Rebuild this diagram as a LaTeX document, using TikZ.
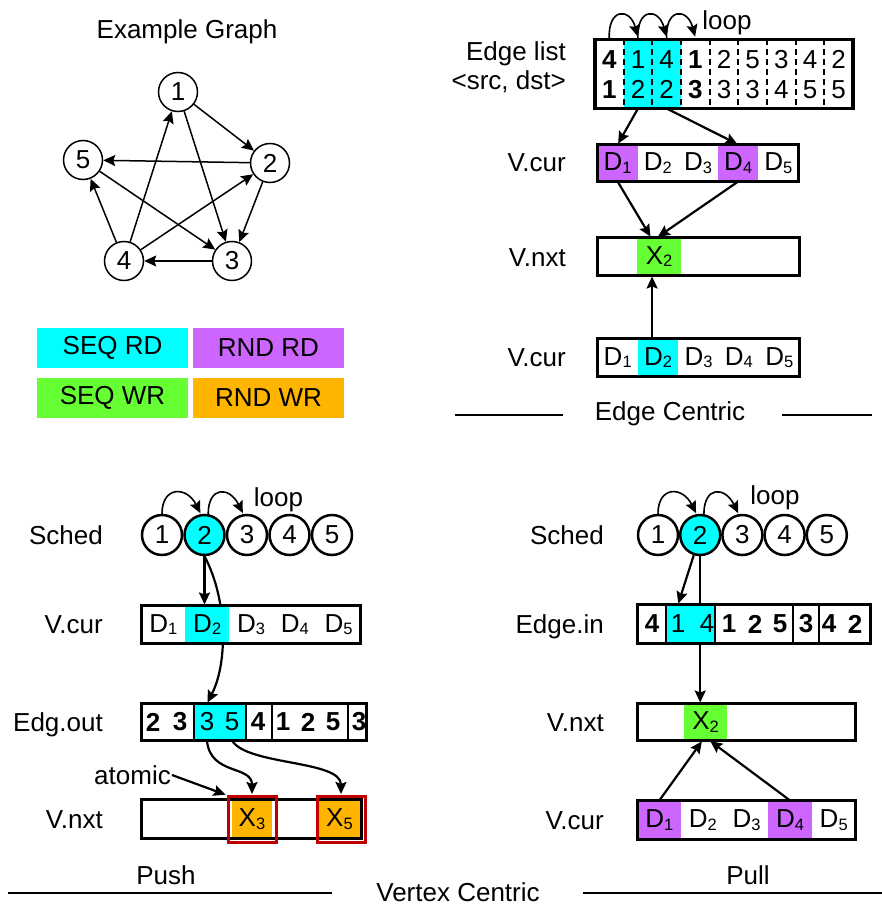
\documentclass[tikz,border=0pt]{standalone}
\usepackage{fontspec}
\setmainfont{Liberation Sans}
\usetikzlibrary{arrows.meta, calc, positioning}

% Cores dos tipos de acesso
\definecolor{seqrd}{RGB}{0,255,255}
\definecolor{rndrd}{RGB}{204,102,255}
\definecolor{seqwr}{RGB}{102,255,51}
\definecolor{rndwr}{RGB}{255,181,0}
\definecolor{atomico}{RGB}{192,0,0}

% Indice (subscrito) dos dados
\newcommand{\idxsub}[1]{\raisebox{-2.5pt}{\fontsize{16.5}{16.5}\selectfont #1}}

\begin{document}
\begin{tikzpicture}[x=1pt, y=-1pt, >={Stealth[length=12pt, width=11pt, inset=2pt]},
  font=\fontsize{26}{31}\selectfont, inner sep=1pt]

  % --- CONFIGURAÇÕES GERAIS ---
  \tikzstyle{vtx}=[circle, draw, line width=1.5pt, minimum size=39pt, inner sep=0pt]
  \tikzstyle{sch}=[circle, draw, line width=2.5pt, minimum size=40pt, inner sep=0pt]
  \tikzstyle{fundo}=[fill=white, inner sep=0pt, outer sep=0pt]
  \tikzstyle{borda}=[line width=3.2pt]
  \tikzstyle{cel}=[inner sep=0pt]
  \tikzstyle{leg}=[inner sep=0pt, minimum width=151pt, minimum height=40pt]
  \tikzstyle{seta}=[->, line width=2.2pt, shorten >=1pt]
  \tikzstyle{atom}=[draw=atomico, line width=3pt, minimum width=48pt, minimum height=46pt, inner sep=0pt]
  \tikzstyle{regua}=[line width=2.5pt]
  \tikzstyle{rot}=[anchor=base east]

  \useasboundingbox (0,0) rectangle (882,909);

  % --- GRAFO DE EXEMPLO ---
  \node (tit) at (187,32) {Example Graph};
  \node[vtx] (g1) at (178,92) {1};
  \node[vtx] (g2) at (270,163) {2};
  \node[vtx] (g3) at (232,261) {3};
  \node[vtx] (g4) at (124,261) {4};
  \node[vtx] (g5) at (83,160) {5};
  \foreach \a/\b in {1/2, 1/3, 2/5, 2/3, 4/1, 4/2, 4/5, 5/3, 3/4}
    \draw[->, line width=1.5pt] (g\a) -- (g\b);

  % Legenda
  \node[leg, fill=seqrd] (lsr) at (112.5,348) {SEQ RD};
  \node[leg, fill=rndrd] (lrr) at (268.5,348) {RND RD};
  \node[leg, fill=seqwr] (lsw) at (112.5,397.5) {SEQ WR};
  \node[leg, fill=rndwr] (lrw) at (268.5,397.5) {RND WR};

  % --- EDGE CENTRIC ---
  \node[anchor=east] (elt) at (567,53.5) {Edge list};
  \node[anchor=east] (elt2) at (567,82) {<src, dst>};
  \node[fundo, minimum width=258pt, minimum height=69pt] (el) at (724,74) {};
  \node[cel, fill=seqrd, minimum width=57.3pt, minimum height=66pt] (elc) at ($(el.west)+(57.33,0)$) {};
  \foreach \s/\d [count=\i] in {\textbf{4}/\textbf{1}, 1/2, 4/2, \textbf{1}/\textbf{3}, 2/3, 5/3, 3/4, 4/5, 2/5} {
    \node (es\i) at ($(el.west)+({28.667*(\i-0.5)},-14.5)$) {\s};
    \node (ed\i) at ($(el.west)+({28.667*(\i-0.5)},15.5)$) {\d};
  }
  \foreach \i in {1,...,8}
    \draw[dash pattern=on 6pt off 4pt, line width=2pt] ($(el.north west)+({28.667*\i},0)$) -- ($(el.south west)+({28.667*\i},0)$);
  \draw[borda] (el.north west) rectangle (el.south east);

  % laço sobre as arestas
  \foreach \a/\b in {1/2, 2/3, 3/4}
    \draw[seta, line width=1.6pt] (es\a |- el.north) .. controls +(-2,-32) and +(-8,-30) .. ($(es\b |- el.north)+(0,-2)$);
  \node (lp1) at (727,23) {loop};

  % V.cur
  \node[rot] (vct) at (567,172) {V.cur};
  \node[fundo, minimum width=201pt, minimum height=37pt] (vc) at (698,163) {};
  \foreach \c/\i in {rndrd/1, white/2, white/3, rndrd/4, white/5}
    \node[cel, fill=\c, minimum width=40.2pt, minimum height=34pt] (vc\i) at ($(vc.west)+({40.2*(\i-0.5)},0)$) {D\idxsub{\i}};
  \draw[borda] (vc.north west) rectangle (vc.south east);

  % V.nxt
  \node[rot] (vnt) at (567,266) {V.nxt};
  \node[fundo, minimum width=202pt, minimum height=38pt] (vn) at (698.5,256.5) {};
  \node[cel, fill=seqwr, minimum width=44pt, minimum height=35pt] (vnx) at (659,256.5) {X\idxsub{2}};
  \draw[borda] (vn.north west) rectangle (vn.south east);

  % V.cur (leitura sequencial)
  \node[rot] (vbt) at (567,366.5) {V.cur};
  \node[fundo, minimum width=202pt, minimum height=38pt] (vb) at (698.5,357.5) {};
  \foreach \c/\i in {white/1, seqrd/2, white/3, white/4, white/5}
    \node[cel, fill=\c, minimum width=40.4pt, minimum height=35pt] (vb\i) at ($(vb.west)+({40.4*(\i-0.5)},0)$) {D\idxsub{\i}};
  \draw[borda] (vb.north west) rectangle (vb.south east);

  % Setas do estágio edge centric
  \draw[seta] (es2 |- el.south) -- (vc1 |- vc.north);
  \draw[seta] (es3 |- el.south) -- (vc4 |- vc.north);
  \draw[seta] (vc1 |- vc.south) -- ($(vn.north -| vnx)+(-8,0)$);
  \draw[seta] (vc4 |- vc.south) -- ($(vn.north -| vnx)+(-2,0)$);
  \draw[seta] ($(vb.north -| vb2)+(-6,0)$) -- ($(vn.south -| vb2)+(-6,0)$);

  \node (ec) at (670,414) {Edge Centric};
  \draw[regua] (455,415) -- (563,415);
  \draw[regua] (782,415) -- (872,415);

  % --- VERTEX CENTRIC: PUSH ---
  \node[rot] (pst) at (104,544) {Sched};
  \foreach \i/\c in {1/white, 2/seqrd, 3/white, 4/white, 5/white}
    \node[sch, fill=\c] (p\i) at ({119.5+42.5*\i},535) {\i};
  \draw[seta, line width=1.6pt] (p1.north) .. controls +(0,-28) and +(-14,-28) .. (p2.100);
  \draw[seta, line width=1.6pt] (p2.80) .. controls +(0,-28) and +(-14,-28) .. (p3.100);
  \node (lp2) at (278.5,500) {loop};

  % caminho até as arestas de saída (passa por trás de V.cur)
  \draw[seta] (p2.south) .. controls +(23,43) and +(21,-41) .. (207,703.5);

  \node[rot] (pvt) at (104,633.5) {V.cur};
  \node[fundo, minimum width=219pt, minimum height=38pt] (vcp) at (251,624.5) {};
  \foreach \c/\i in {white/1, seqrd/2, white/3, white/4, white/5}
    \node[cel, fill=\c, minimum width=43.8pt, minimum height=35pt] (vcp\i) at ($(vcp.west)+({43.8*(\i-0.5)},0)$) {D\idxsub{\i}};
  \draw[borda] (vcp.north west) rectangle (vcp.south east);
  \draw[seta] (p2) -- (p2 |- vcp.north);

  % Edg.out
  \node[rot] (eot) at (104,731) {Edg.out};
  \node[fundo, minimum width=225pt, minimum height=37pt] (eo) at (254,722) {};
  \node[cel, fill=seqrd, minimum width=52pt, minimum height=34pt] (eoc) at (220,722) {};
  \foreach \x/\n [count=\i] in {153/\textbf{2}, 180/\textbf{3}, 207/3, 232/5, 258/\textbf{4}, 283/\textbf{1}, 308/\textbf{2}, 333/\textbf{5}, 359/\textbf{3}}
    \node (eo\i) at (\x,722) {\n};
  \foreach \x in {194, 246, 272, 348}
    \draw[line width=2pt] (\x,703.5) -- (\x,740.5);
  \draw[borda] (eo.north west) rectangle (eo.south east);

  % V.nxt com escrita atômica
  \node[rot] (pnt) at (104,828) {V.nxt};
  \node[fundo, minimum width=220pt, minimum height=39pt] (vnp) at (251.5,819) {};
  \node[cel, fill=rndwr, minimum width=40pt, minimum height=36pt] (x3) at (252,819) {X\idxsub{3}};
  \node[cel, fill=rndwr, minimum width=43pt, minimum height=36pt] (x5) at (339.5,819) {X\idxsub{5}};
  \draw[borda] (vnp.north west) rectangle (vnp.south east);
  \node[atom] (r3) at (252,819.5) {};
  \node[atom] (r5) at (341,819.5) {};

  \draw[seta] (eo3 |- eo.south) .. controls +(3,35) and +(0,-30) .. (r3.north);
  \draw[seta] (eo4 |- eo.south) .. controls +(15,25) and +(0,-35) .. (r5.north);

  \node (atm) at (132.5,775) {atomic};
  \draw[seta] (atm.east) -- (r3.north west);

  \node (push) at (166,875) {Push};
  \draw[regua] (8,893) -- (332,893);

  \node (vtc) at (458,892) {Vertex Centric};

  % --- VERTEX CENTRIC: PULL ---
  \node[rot] (qst) at (605,544) {Sched};
  \foreach \i/\c in {1/white, 2/seqrd, 3/white, 4/white, 5/white}
    \node[sch, fill=\c] (q\i) at ({615.8+42.2*\i},535) {\i};
  \draw[seta, line width=1.6pt] (q1.north) .. controls +(0,-28) and +(-14,-28) .. (q2.100);
  \draw[seta, line width=1.6pt] (q2.80) .. controls +(0,-28) and +(-14,-28) .. (q3.100);
  \node (lp3) at (775,498) {loop};

  % caminho até V.nxt (passa por trás de Edge.in)
  \draw[seta] (q2) -- (700.2,703.5);

  \node[rot] (eit) at (605,633) {Edge.in};
  \node[fundo, minimum width=233pt, minimum height=39pt] (ei) at (754,624) {};
  \node[cel, fill=seqrd, minimum width=49pt, minimum height=36pt] (eic) at (690.5,624) {};
  \foreach \x/\n [count=\i] in {652/\textbf{4}, 678/1, 707/4, 729/\textbf{1}, 755/\textbf{2}, 780/\textbf{5}, 806/\textbf{3}, 829/\textbf{4}, 855/\textbf{2}}
    \node (ei\i) at (\x,624) {\n};
  \foreach \x in {666, 715, 793, 819}
    \draw[line width=2pt] (\x,604.5) -- (\x,643.5);
  \draw[borda] (ei.north west) rectangle (ei.south east);
  \draw[seta] (q2) -- (ei2 |- ei.north);

  \node[rot] (qnt) at (605,731) {V.nxt};
  \node[fundo, minimum width=218pt, minimum height=37pt] (vnq) at (746.5,722) {};
  \node[cel, fill=seqwr, minimum width=43pt, minimum height=34pt] (xq) at (705.5,722) {X\idxsub{2}};
  \draw[borda] (vnq.north west) rectangle (vnq.south east);

  \node[rot] (qvt) at (605,829) {V.cur};
  \node[fundo, minimum width=218pt, minimum height=39pt] (vq) at (746.5,820) {};
  \foreach \c/\i in {rndrd/1, white/2, white/3, rndrd/4, white/5}
    \node[cel, fill=\c, minimum width=43.6pt, minimum height=36pt] (vq\i) at ($(vq.west)+({43.6*(\i-0.5)},0)$) {D\idxsub{\i}};
  \draw[borda] (vq.north west) rectangle (vq.south east);

  \draw[seta] (vq1 |- vq.north) -- ($(vnq.south -| xq)+(-3,0)$);
  \draw[seta] (vq4 |- vq.north) -- ($(vnq.south -| xq)+(4,0)$);

  \node (pull) at (748,875) {Pull};
  \draw[regua] (583,893) -- (882,893);

\end{tikzpicture}
\end{document}
